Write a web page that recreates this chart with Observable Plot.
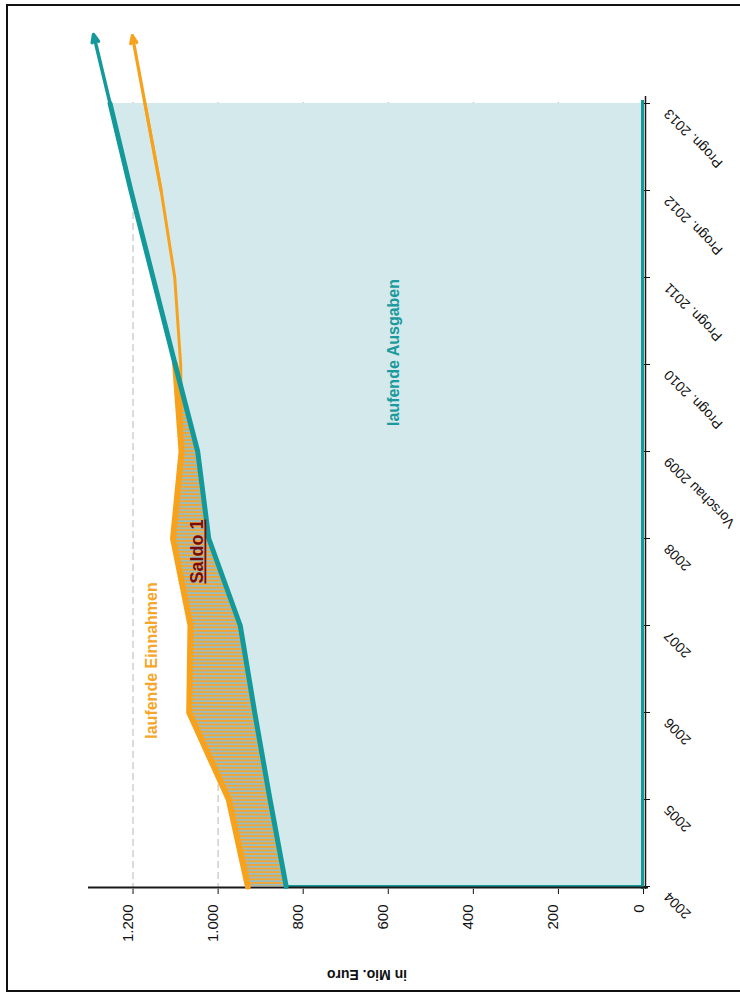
<!DOCTYPE html>
<html><head><meta charset="utf-8">
<script src="https://cdn.jsdelivr.net/npm/d3@7"></script>
<script src="https://cdn.jsdelivr.net/npm/@observablehq/plot@0.6"></script>
<style>
html,body{margin:0;padding:0;background:#fff;}
#wrap{position:relative;width:740px;height:994px;overflow:hidden;}
#frame{position:absolute;left:6px;top:4px;width:800px;height:988px;border:2px solid #111;pointer-events:none;box-sizing:border-box;}
svg{display:block}
</style></head><body><div id="wrap"><div id="chart"></div><div id="frame"></div></div>
<script>
const years = ["2004","2005","2006","2007","2008","Vorschau 2009","Progn. 2010","Progn. 2011","Progn. 2012","Progn. 2013"];
const ausgaben = [840, 878, 914, 948, 1022, 1048, 1101, 1153, 1205, 1254];
const einnahmen = [930, 975, 1068, 1065, 1106, 1086, 1088, 1102, 1134, 1172];
const valueTicks = [0, 200, 400, 600, 800, 1000, 1200];

const teal = "#14999b", orange = "#f7a21d", areaFill = "#d4e9eb", saldoRed = "#7a0a0a";
const fmt = d => d3.format(",")(d).replace(/,/g, ".");

const rows = years.map((year, i) => ({year, ausgaben: ausgaben[i], einnahmen: einnahmen[i], oben: Math.max(ausgaben[i], einnahmen[i])}));
const n = years.length;
const tealArrow = [{x1: ausgaben[n-2], y1: years[n-2], x2: ausgaben[n-1], y2: years[n-1]}];
const orangeArrow = [{x1: einnahmen[n-2], y1: years[n-2], x2: einnahmen[n-1], y2: years[n-1]}];

const svg = Plot.plot({
  width: 740, height: 994,
  marginLeft: 90, marginRight: 97, marginTop: 100, marginBottom: 105,
  style: {fontFamily: "'Liberation Sans', Arial, sans-serif", background: "white", overflow: "visible", color: "#111"},
  x: {domain: [0, 1300], reverse: true, ticks: valueTicks, tickSize: 5, tickFormat: () => "", label: null},
  y: {type: "point", domain: years, reverse: true, padding: 0, axis: "right", tickSize: 6, tickFormat: () => "", label: null},
  marks: [
    Plot.ruleX(valueTicks.filter(d => d > 0), {stroke: "#c4c4c4", strokeWidth: 1.2, strokeDasharray: "7,4", insetTop: 2}),
    Plot.areaX(rows, {y: "year", x1: () => 0, x2: "ausgaben", fill: areaFill, fillOpacity: 1}),
    Plot.areaX(rows, {y: "year", x1: "ausgaben", x2: "oben", fill: "url(#saldoHatch)"}),
    Plot.ruleY(rows.slice(0, 1), {y: "year", x1: () => 0, x2: "ausgaben", stroke: teal, strokeWidth: 3}),
    Plot.ruleX([0], {stroke: teal, strokeWidth: 3, dx: -1}),
    Plot.ruleX([0], {stroke: "#1a1a1a", strokeWidth: 1.5, dx: 2, insetTop: -4}),
    Plot.ruleY(years.slice(0, 1), {stroke: "#1a1a1a", strokeWidth: 1.8, dy: 1, insetLeft: -2, insetRight: -5}),
    Plot.lineX(rows.slice(0, 7), {y: "year", x: "oben", stroke: orange, strokeWidth: 6, strokeLinejoin: "miter"}),
    Plot.lineX(rows.slice(5), {y: "year", x: "einnahmen", stroke: orange, strokeWidth: 3}),
    Plot.arrow(orangeArrow, {x1: "x1", y1: "y1", x2: "x2", y2: "y2", stroke: orange, insetEnd: -69, strokeWidth: 3.2, headLength: 3.8, headAngle: 45}),
    Plot.arrow(tealArrow, {x1: "x1", y1: "y1", x2: "x2", y2: "y2", stroke: teal, insetEnd: -71, strokeWidth: 3.5, headLength: 3.6, headAngle: 45}),
    Plot.lineX(rows, {y: "year", x: "ausgaben", stroke: teal, strokeWidth: 5}),
    Plot.text(valueTicks, {x: d => d, frameAnchor: "bottom", text: fmt, rotate: -90, textAnchor: "end", dy: 15, fontSize: 15, fill: "#111"}),
    Plot.text(years, {y: d => d, frameAnchor: "right", text: d => d, rotate: -135, textAnchor: "end", dx: 23, dy: 8, fontSize: 14, fill: "#111"}),
    Plot.text(["in Mio. Euro"], {frameAnchor: "bottom", text: d => d, rotate: 180, dy: 80, fontSize: 14, fontWeight: "bold", fill: "#111"}),
    Plot.text(["laufende Ausgaben"], {x: () => 587, y: () => years[6], dy: -12, text: d => d, rotate: -90, fontSize: 16, fontWeight: "bold", fill: "#1a9a9c"}),
    Plot.text(["laufende Einnahmen"], {x: () => 1155, y: () => years[3], dy: 35, text: d => d, rotate: -90, fontSize: 16, fontWeight: "bold", fill: "#f6a62a"}),
    Plot.text(["Saldo 1"], {x: () => 1048, y: () => years[4], dy: 13, text: d => d, rotate: -90, fontSize: 18, fontWeight: "bold", fill: saldoRed})
  ]
});

const defs = d3.select(svg).insert("defs", ":first-child");
const pat = defs.append("pattern").attr("id", "saldoHatch").attr("patternUnits", "userSpaceOnUse").attr("width", 8).attr("height", 3.6);
pat.append("rect").attr("width", 8).attr("height", 3.6).attr("fill", "#97bec2");
pat.append("rect").attr("width", 8).attr("height", 1.8).attr("fill", "#f3a433");

d3.select(svg).selectAll("text").filter(function(){ return this.textContent === "Saldo 1"; })
  .style("text-decoration", "underline").style("text-decoration-thickness", "3px");

document.getElementById("chart").appendChild(svg);
</script>
</body></html>
